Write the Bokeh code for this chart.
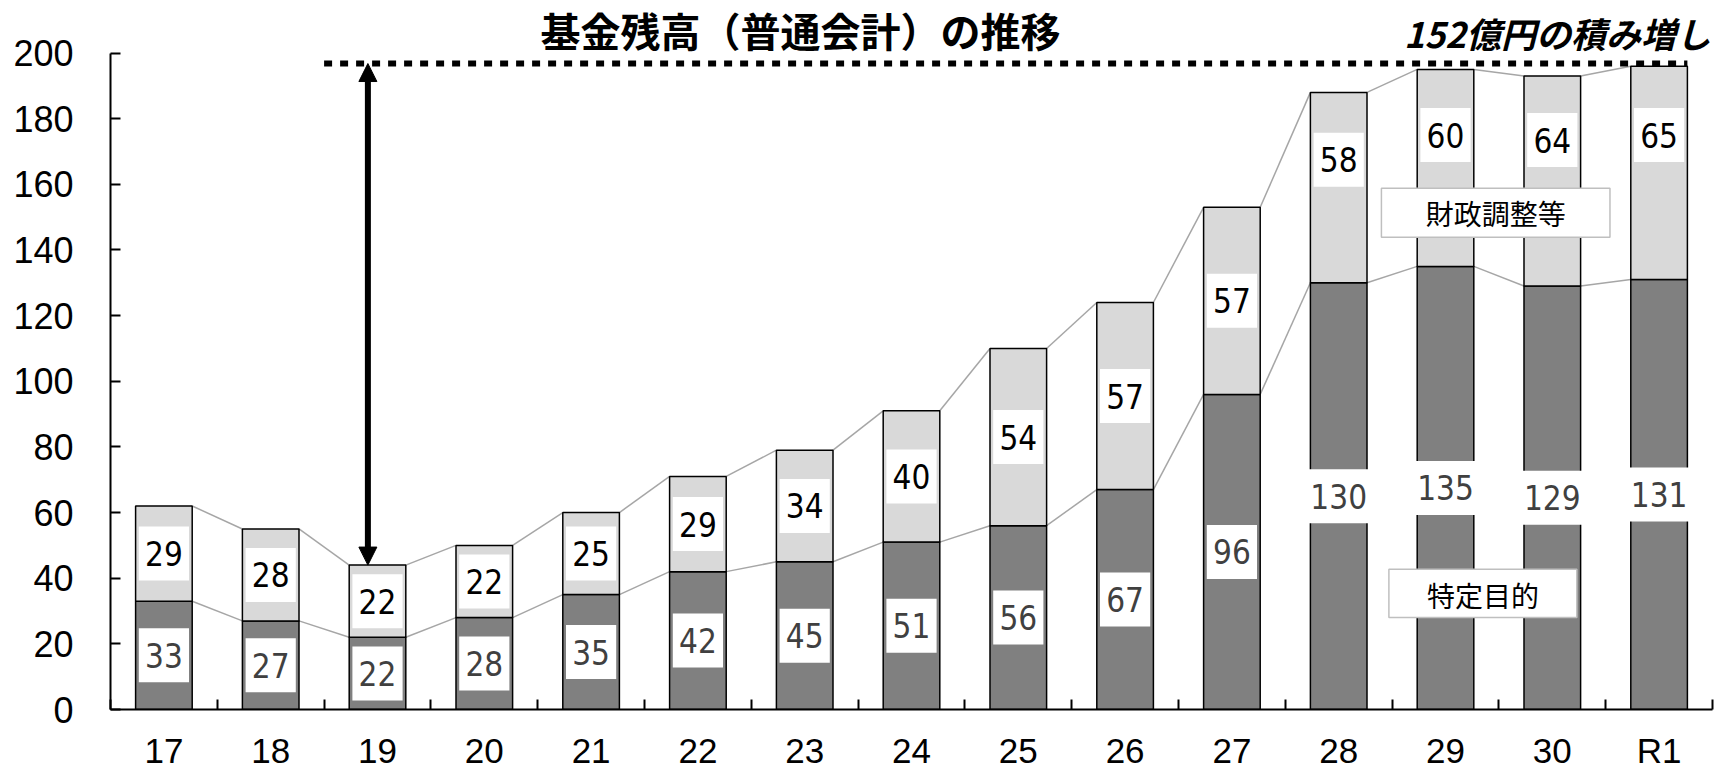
from bokeh.plotting import figure
from bokeh.models import Range1d, FixedTicker, Arrow, NormalHead, BoxAnnotation, Label
from bokeh.core.properties import value
from bokeh.embed import file_html
from bokeh.resources import INLINE

# ---- data ----
years = ["17", "18", "19", "20", "21", "22", "23", "24", "25", "26", "27", "28", "29", "30", "R1"]
tokutei = [33, 27, 22, 28, 35, 42, 45, 51, 56, 67, 96, 130, 135, 129, 131]   # 特定目的
zaisei = [29, 28, 22, 22, 25, 29, 34, 40, 54, 57, 57, 58, 60, 64, 65]        # 財政調整等
y_ticks = [0, 20, 40, 60, 80, 100, 120, 140, 160, 180, 200]

title_text = "基金残高（普通会計）の推移"
note_text = "152億円の積み増し"
legend_upper = "財政調整等"
legend_lower = "特定目的"

# ---- style ----
upper_label_shift = [0] * 11 + [8.5, 10, 12.5, 11.5]
BW = 0.53
DARK = "#808080"
LIGHT = "#d9d9d9"
CONN = "#a6a6a6"
NUM_FONT = "DejaVu Sans Condensed"
TICK_FONT = "Liberation Sans"
JP_FONT = "Noto Sans CJK JP"
Y_MAX = 200
Y_VIEW = 216

n = len(years)
xc = [i + 0.5 for i in range(n)]
totals = [a + b for a, b in zip(tokutei, zaisei)]

p = figure(frame_width=1602, frame_height=709,
           min_border_left=110, min_border_right=5, min_border_top=0, min_border_bottom=57,
           x_range=Range1d(0, n), y_range=Range1d(0, Y_VIEW),
           output_backend="svg", toolbar_location=None)
p.outline_line_color = None
p.xgrid.visible = False
p.ygrid.visible = False
p.background_fill_color = "white"

# x axis
p.xaxis.ticker = FixedTicker(ticks=xc, minor_ticks=list(range(n + 1)))
p.xaxis.major_label_overrides = {c: y for c, y in zip(xc, years)}
p.xaxis.major_tick_line_color = None
p.xaxis.minor_tick_in = 10
p.xaxis.minor_tick_out = 0
p.xaxis.minor_tick_line_width = 2
p.xaxis.minor_tick_line_color = "black"
p.xaxis.axis_line_width = 2
p.xaxis.axis_line_color = "black"
p.xaxis.major_label_text_font = TICK_FONT
p.xaxis.major_label_text_font_size = "35px"
p.xaxis.major_label_text_color = "black"
p.xaxis.major_label_standoff = 15

# y axis
p.yaxis.ticker = FixedTicker(ticks=y_ticks)
p.yaxis.bounds = (0, Y_MAX)
p.yaxis.major_tick_in = 10
p.yaxis.major_tick_out = 0
p.yaxis.major_tick_line_width = 2
p.yaxis.major_tick_line_color = "black"
p.yaxis.minor_tick_line_color = None
p.yaxis.axis_line_width = 2
p.yaxis.axis_line_color = "black"
p.yaxis.major_label_text_font = TICK_FONT
p.yaxis.major_label_text_font_size = "36px"
p.yaxis.major_label_text_color = "black"
p.yaxis.major_label_standoff = 37

# connectors
p.segment(x0=[xc[i] + BW / 2 for i in range(n - 1)], y0=totals[:-1],
          x1=[xc[i + 1] - BW / 2 for i in range(n - 1)], y1=totals[1:],
          line_color=CONN, line_width=1.5)
p.segment(x0=[xc[i] + BW / 2 for i in range(n - 1)], y0=tokutei[:-1],
          x1=[xc[i + 1] - BW / 2 for i in range(n - 1)], y1=tokutei[1:],
          line_color=CONN, line_width=1.5)

# bars
p.vbar(x=xc, bottom=0, top=tokutei, width=BW, fill_color=DARK, line_color="black", line_width=1.5)
p.vbar(x=xc, bottom=tokutei, top=totals, width=BW, fill_color=LIGHT, line_color="black", line_width=1.5)

# value labels
low_y = [t / 2 for t in tokutei]
up_y = [t + z / 2 + s for t, z, s in zip(tokutei, zaisei, upper_label_shift)]
for ys, vals, col in ((low_y, tokutei, "#404040"), (up_y, zaisei, "black")):
    widths = [0.57 if len(str(v)) > 2 else 0.47 for v in vals]
    p.rect(x=xc, y=ys, width=widths, height=54, height_units="screen",
           fill_color="white", line_color=None)
    p.text(x=xc, y=ys, text=[str(v) for v in vals], text_align="center", text_baseline="middle",
           text_font=value(NUM_FONT), text_font_size="33px", text_color=col)

# dotted target line and arrow
i_min = totals.index(min(totals))
y_top = totals[-1] + 0.8
p.line(x=[float(i_min), xc[-1] + BW / 2], y=[y_top, y_top], line_color="black",
       line_width=6, line_dash="8 8", line_cap="butt")
ax = xc[i_min] - 0.09
p.add_layout(Arrow(start=NormalHead(size=18, fill_color="black", line_color="black"),
                   end=NormalHead(size=18, fill_color="black", line_color="black"),
                   x_start=ax, y_start=totals[i_min], x_end=ax, y_end=y_top,
                   line_width=6, line_color="black"))

# legend-like boxes
p.add_layout(BoxAnnotation(left=11.90, right=14.04, bottom=143.9, top=158.8,
                           fill_color="white", fill_alpha=1, line_color="#bfbfbf", line_width=1.5,
                           line_alpha=1))
p.add_layout(Label(x=12.97, y=151.3, text=legend_upper, text_align="center", text_baseline="middle",
                   text_font=JP_FONT, text_font_size="28px", text_color="black"))
p.add_layout(BoxAnnotation(left=11.97, right=13.73, bottom=28.0, top=42.7,
                           fill_color="white", fill_alpha=1, line_color="#bfbfbf", line_width=1.5,
                           line_alpha=1))
p.add_layout(Label(x=12.85, y=35.0, text=legend_lower, text_align="center", text_baseline="middle",
                   text_font=JP_FONT, text_font_size="28px", text_color="black"))

# texts above the bars
p.add_layout(Label(x=14.985, y=206.4, text=note_text, text_align="right", text_baseline="middle",
                   text_font=JP_FONT, text_font_size="35px", text_font_style="bold italic",
                   text_color="black"))
p.add_layout(Label(x=6.46, y=Y_VIEW, text=title_text, text_align="center", text_baseline="top",
                   text_font=JP_FONT, text_font_size="40px", text_font_style="bold",
                   text_color="black"))

open("out.html", "w").write(file_html(p, INLINE))
